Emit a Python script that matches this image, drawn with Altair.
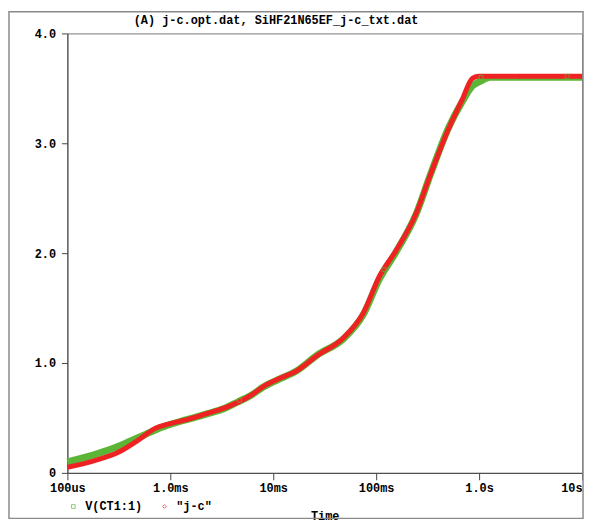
import altair as alt
import pandas as pd

# ---- data ----
green_t = [1e-4, 1.74e-4, 2.71e-4, 3.69e-4, 5.75e-4, 7.13e-4, 9.57e-4, 1.38e-3, 2.16e-3,
           3.43e-3, 4.51e-3, 6.05e-3, 8.15e-3, 1.09e-2, 1.7e-2, 2.65e-2, 4.82e-2, 7.5e-2,
           0.107, 0.156, 0.243, 0.338, 0.504, 0.687, 0.857, 1.06, 1.27, 2.0, 5.0, 10.0]
green_v = [0.099, 0.159, 0.219, 0.27, 0.351, 0.39, 0.435, 0.48, 0.53,
           0.59, 0.645, 0.705, 0.785, 0.845, 0.93, 1.07, 1.22, 1.44,
           1.76, 2.01, 2.35, 2.72, 3.14, 3.38, 3.52, 3.57, 3.60, 3.60, 3.60, 3.60]

red_t = [1e-4, 1.74e-4, 3.16e-4, 4.92e-4, 7.13e-4, 9.57e-4, 1.38e-3, 2.16e-3, 3.43e-3,
         4.51e-3, 6.05e-3, 8.15e-3, 1.09e-2, 1.7e-2, 2.65e-2, 4.82e-2, 7.5e-2, 0.107,
         0.156, 0.243, 0.338, 0.504, 0.687, 0.857, 0.98, 2.0, 5.0, 10.0]
red_v = [0.051, 0.105, 0.189, 0.30, 0.405, 0.444, 0.48, 0.534, 0.594,
         0.64, 0.705, 0.79, 0.85, 0.93, 1.065, 1.23, 1.455, 1.785,
         2.025, 2.355, 2.72, 3.13, 3.40, 3.59, 3.61, 3.61, 3.61, 3.61]

series_names = ["V(CT1:1)", '"j-c"']
series_colors = ["#5cb536", "#ee2222"]
series_shapes = ["square", "diamond"]

marker_series = ["V(CT1:1)", "V(CT1:1)", "V(CT1:1)", "V(CT1:1)", '"j-c"', '"j-c"', '"j-c"']
marker_t = [4.71e-3, 0.119, 1.045, 7.18, 7.18e-4, 0.526, 2.48]
marker_v = [0.66, 1.85, 3.60, 3.61, 0.41, 3.15, 3.61]

x_tick_values = [1e-4, 1e-3, 1e-2, 1e-1, 1.0, 10.0]
x_tick_labels = ["100us", "1.0ms", "10ms", "100ms", "1.0s", "10s"]
x_tick_exps = [-4, -3, -2, -1, 0, 1]
y_tick_values = [0, 1, 2, 3, 4]

title_text = ["(A) j-c.opt.dat, SiHF21N65EF_j-c_txt.dat"]
x_title = "Time"

FONT = "Liberation Mono"

green_df = pd.DataFrame({"t": green_t, "v": green_v})
red_df = pd.DataFrame({"t": red_t, "v": red_v})
mark_df = pd.DataFrame({"series": marker_series, "t": marker_t, "v": marker_v})
title_df = pd.DataFrame({"label": title_text})

x_label_expr = ""
for e, lab in zip(x_tick_exps, x_tick_labels):
    x_label_expr += f"round(log(datum.value)/LN10) == {e} ? '{lab}' : "
x_label_expr += "''"

xscale = alt.Scale(type="log", domain=[1e-4, 10], nice=False)
yscale = alt.Scale(domain=[0, 4], nice=False, zero=False)

xaxis = alt.Axis(
    values=x_tick_values, labelExpr=x_label_expr, title=x_title, grid=False,
    tickSize=7, labelPadding=3, domainColor="#444", tickColor="#444",
    labelAlign={"condition": {"test": "datum.value >= 5", "value": "right"}, "value": "center"},
    titleY=43, titleBaseline="middle", titleFont=FONT, titleFontSize=12,
    titleFontWeight="bold", titleColor="#000",
    labelFont=FONT, labelFontSize=12, labelFontWeight="bold", labelColor="#000",
)
yaxis = alt.Axis(
    values=y_tick_values, labelExpr="datum.value == 0 ? '0' : format(datum.value, '.1f')",
    title=None, grid=False, tickSize=6, labelPadding=6,
    domainColor="#444", tickColor="#444",
    labelFont=FONT, labelFontSize=12, labelFontWeight="bold", labelColor="#000",
)

green_line = alt.Chart(green_df).mark_line(
    color=series_colors[0], strokeWidth=7, interpolate="monotone"
).encode(
    x=alt.X("t:Q", scale=xscale, axis=xaxis),
    y=alt.Y("v:Q", scale=yscale, axis=yaxis),
)

red_line = alt.Chart(red_df).mark_line(
    color=series_colors[1], strokeWidth=5, interpolate="monotone"
).encode(
    x=alt.X("t:Q", scale=xscale),
    y=alt.Y("v:Q", scale=yscale),
)

leg = alt.Legend(title=None, orient="none", legendX=0, legendY=472,
                 direction="horizontal", columns=2,
                 labelFont=FONT, labelFontSize=12, labelFontWeight="bold", labelColor="#000",
                 symbolSize=14, symbolStrokeWidth=1, labelOffset=6, columnPadding=16, padding=0)

markers = alt.Chart(mark_df).mark_point(filled=False, size=16, strokeWidth=1).encode(
    x=alt.X("t:Q", scale=xscale),
    y=alt.Y("v:Q", scale=yscale),
    color=alt.Color("series:N", scale=alt.Scale(domain=series_names, range=series_colors),
                    legend=leg),
    shape=alt.Shape("series:N", scale=alt.Scale(domain=series_names, range=series_shapes),
                    legend=leg),
)

title_mark = alt.Chart(title_df).mark_text(
    font=FONT, fontSize=12, fontWeight="bold", color="#000", align="left", baseline="middle"
).encode(
    text="label:N", x=alt.value(67), y=alt.value(-14)
)

frame = alt.Chart(pd.DataFrame({"a": [0]})).mark_rect(
    filled=False, stroke="#8a8a8a", strokeWidth=1.5
).encode(
    x=alt.value(-59), x2=alt.value(521), y=alt.value(-22), y2=alt.value(490)
)

chart = alt.layer(green_line, red_line, markers, title_mark, frame).properties(
    width=520, height=444,
    padding={"left": 60, "top": 23, "right": 3, "bottom": 49},
    autosize=alt.AutoSizeParams(type="none"),
    background="white",
).configure_view(
    stroke="#777", strokeWidth=1
)

chart.save("out.html", embed_options={"renderer": "svg", "actions": False})
